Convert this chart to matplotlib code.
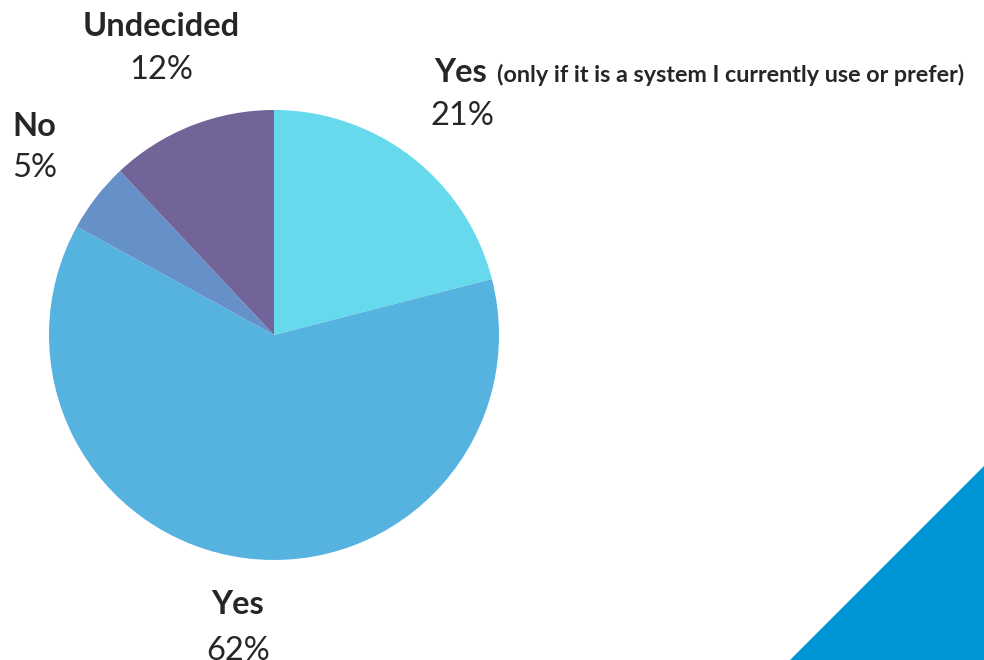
import matplotlib.pyplot as plt
from matplotlib.patches import Polygon

# Survey answers, clockwise from 12 o'clock
answers = ["Yes (only if it is a system I currently use or prefer)", "Yes", "No", "Undecided"]
shares = [21, 62, 5, 12]
colors = ["#66DAEC", "#56B3E0", "#6690C8", "#726499"]

W, H = 984, 660
fig = plt.figure(figsize=(W / 100, H / 100), dpi=100)
plt.rcParams['font.family'] = ['Lato', 'DejaVu Sans']

# pie centred at (274, 335) px with radius 225 px
cx, cy, r = 274, 335, 225
ax = fig.add_axes([(cx - r) / W, (H - cy - r) / H, 2 * r / W, 2 * r / H])
ax.pie(shares, colors=colors, startangle=90, counterclock=False,
       wedgeprops=dict(linewidth=0))
ax.set_xlim(-1, 1)
ax.set_ylim(-1, 1)
ax.set_aspect('equal')
ax.axis('off')

# blue corner triangle
corner = fig.add_axes([0, 0, 1, 1], zorder=-1)
corner.set_xlim(0, W)
corner.set_ylim(H, 0)
corner.axis('off')
corner.add_patch(Polygon([(790, H), (W, 466), (W, H)], closed=True,
                         facecolor="#0096D6", edgecolor="none"))

txt = "#262626"
big = 23.5


def px(x, y):
    return x / W, 1 - y / H


# labels
fig.text(*px(161, 27), "Undecided", ha='center', va='center', fontsize=big,
         fontweight='bold', color=txt)
fig.text(*px(161, 70), f"{shares[3]}%", ha='center', va='center', fontsize=big, color=txt)

fig.text(*px(12, 126), "No", ha='left', va='center', fontsize=big,
         fontweight='bold', color=txt)
fig.text(*px(12, 168), f"{shares[2]}%", ha='left', va='center', fontsize=big, color=txt)

fig.text(*px(434, 73), "Yes", ha='left', va='center', fontsize=big,
         fontweight='bold', color=txt)
fig.text(*px(497, 75), answers[0][4:], ha='left', va='center', fontsize=16.8,
         fontweight='bold', color=txt)
fig.text(*px(430, 116), f"{shares[0]}%", ha='left', va='center', fontsize=big, color=txt)

fig.text(*px(238, 605), "Yes", ha='center', va='center', fontsize=big,
         fontweight='bold', color=txt)
fig.text(*px(238, 651), f"{shares[1]}%", ha='center', va='center', fontsize=big, color=txt)

fig.savefig("out.png", dpi=100, facecolor="white")
